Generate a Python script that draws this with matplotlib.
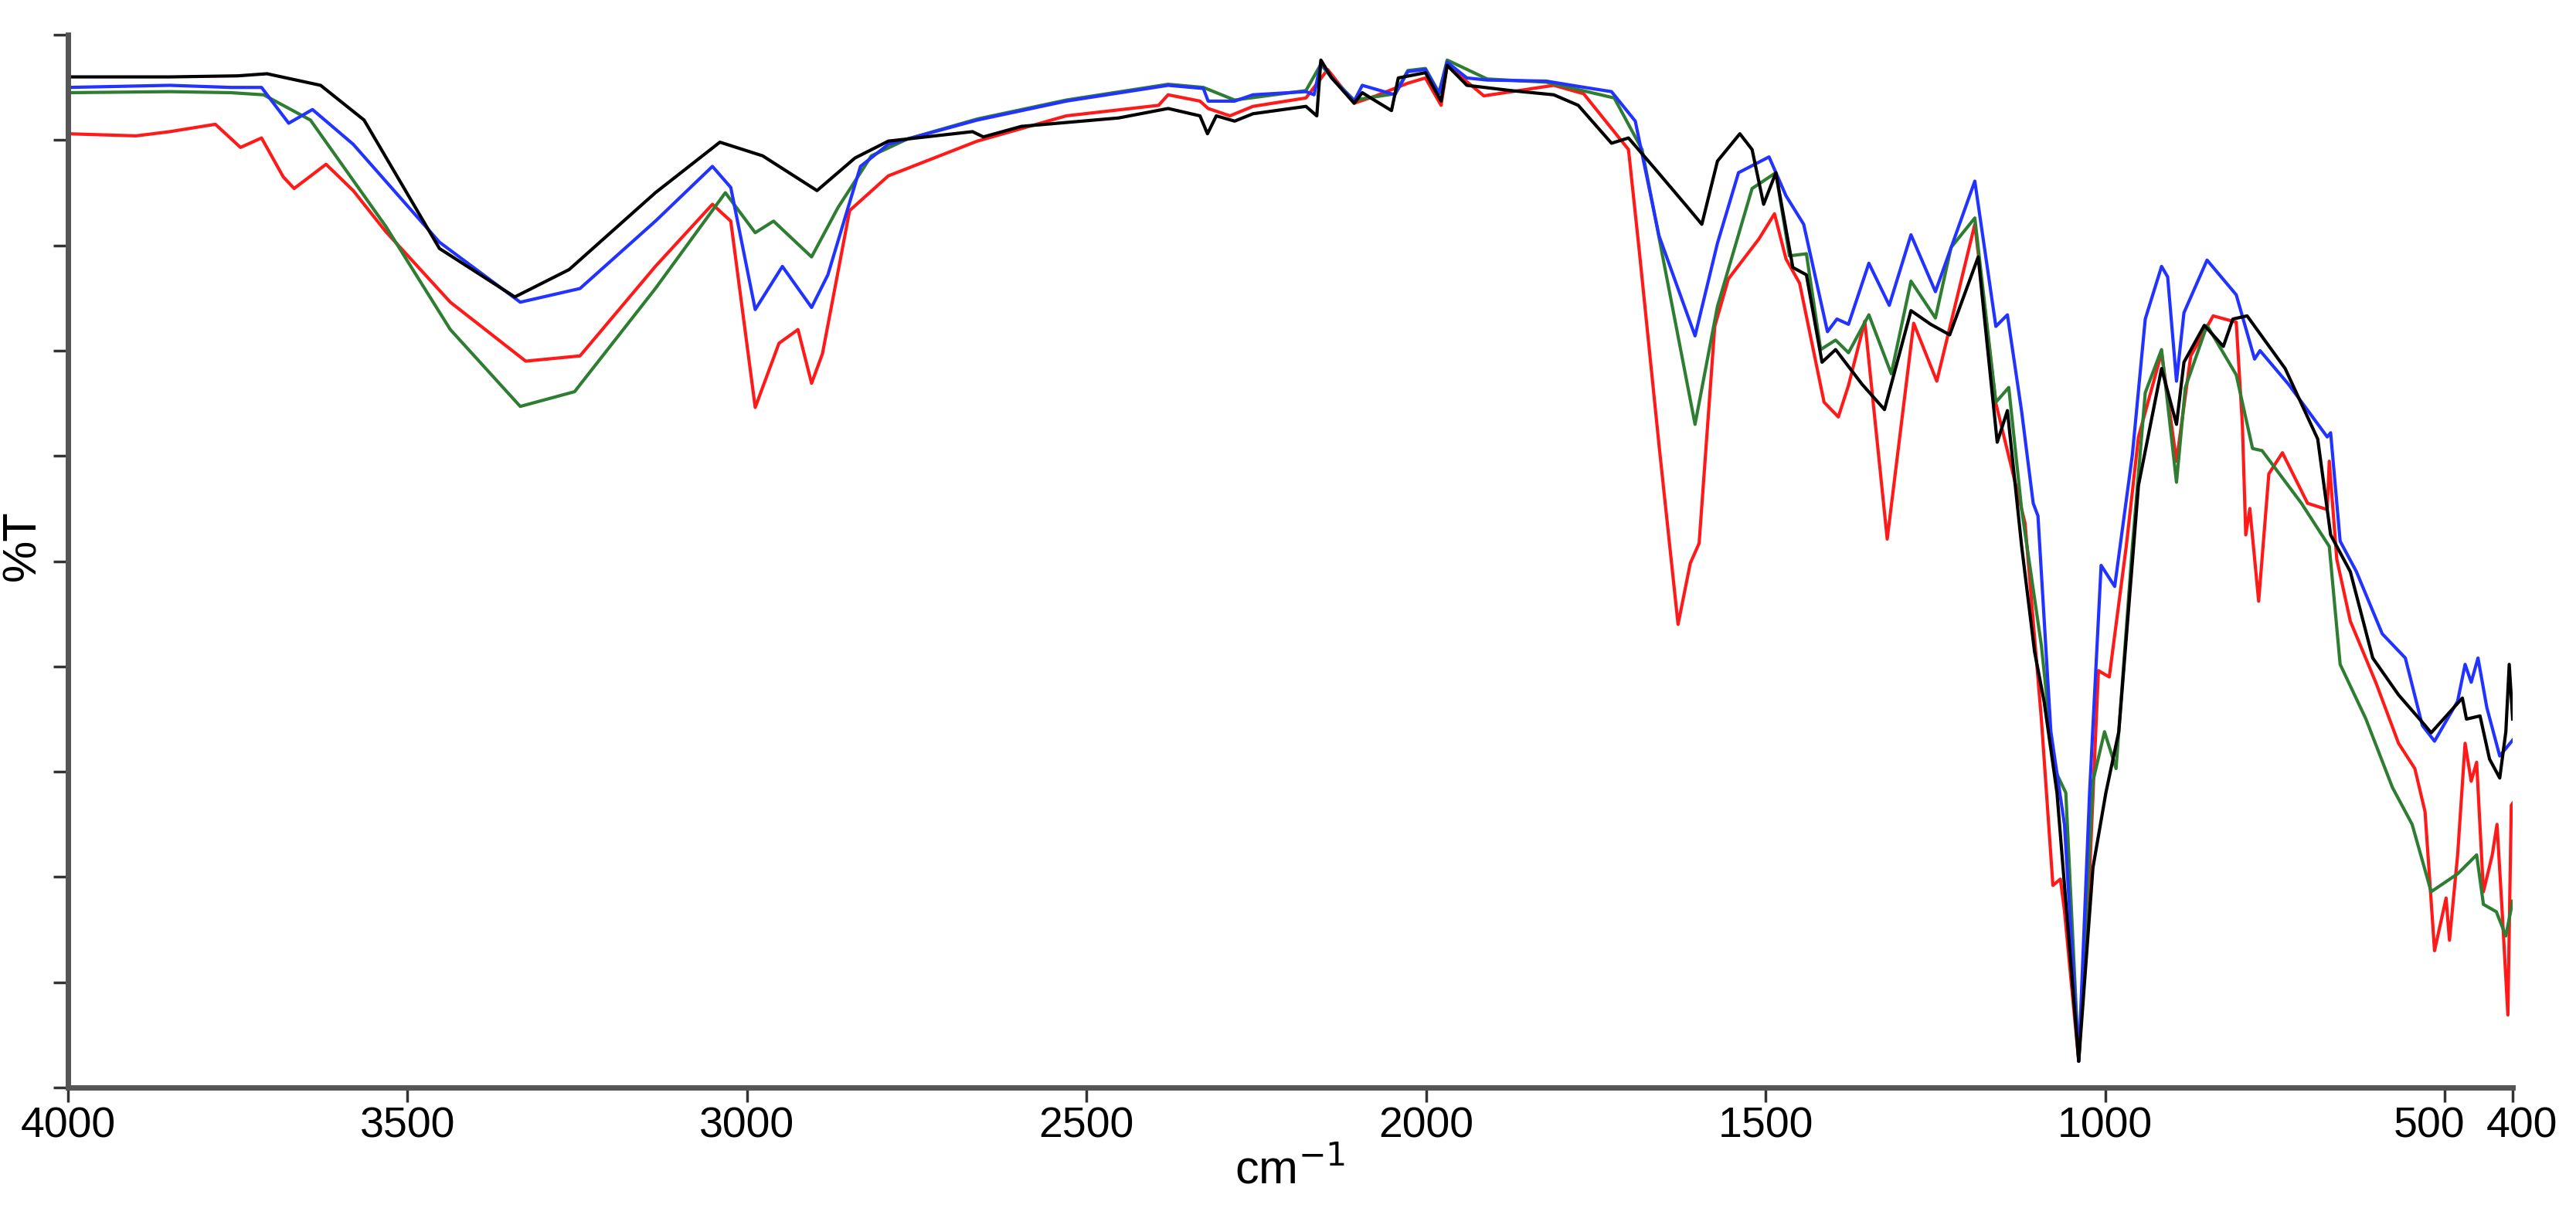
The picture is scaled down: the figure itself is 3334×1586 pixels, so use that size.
import matplotlib
matplotlib.use("Agg")
import matplotlib.pyplot as plt
import matplotlib.transforms as mtransforms

plt.rcParams['font.family'] = ['Liberation Sans', 'DejaVu Sans']

# wavenumber (cm-1) and %T readings for each spectrum
black_wn = [4000, 3850, 3750, 3707, 3628, 3564, 3453, 3342, 3262, 3135, 3040, 2977, 2897, 2841,
            2792, 2668, 2652, 2596, 2453, 2380, 2333, 2322, 2309, 2282, 2255, 2177, 2161, 2155,
            2139, 2106, 2094, 2074, 2051, 2041, 2001, 1978, 1969, 1940, 1875, 1812, 1776, 1727,
            1702, 1662, 1616, 1594, 1571, 1538, 1520, 1503, 1485, 1460, 1440, 1417, 1397, 1358,
            1325, 1286, 1257, 1229, 1187, 1159, 1144, 1123, 1104, 1090, 1071, 1039, 1018, 999, 980,
            951, 917, 895, 884, 854, 826, 812, 791, 735, 687, 668, 639, 606, 568, 529, 520, 474,
            468, 448, 434, 419, 410, 405, 400]
black_t = [9.60, 9.60, 9.61, 9.63, 9.52, 9.19, 7.97, 7.51, 7.77, 8.50, 8.98, 8.85, 8.52, 8.83,
           8.99, 9.08, 9.03, 9.13, 9.21, 9.30, 9.23, 9.06, 9.23, 9.18, 9.25, 9.32, 9.23, 9.76,
           9.59, 9.35, 9.45, 9.37, 9.28, 9.59, 9.64, 9.37, 9.71, 9.52, 9.47, 9.43, 9.33, 8.97,
           9.02, 8.72, 8.37, 8.20, 8.80, 9.06, 8.91, 8.39, 8.69, 7.79, 7.72, 6.89, 7.01, 6.68,
           6.44, 7.38, 7.25, 7.15, 7.89, 6.13, 6.43, 5.14, 4.14, 3.67, 2.80, 0.25, 2.09, 2.80, 3.38,
           5.72, 6.83, 6.30, 6.89, 7.24, 7.04, 7.30, 7.33, 6.83, 6.16, 5.25, 4.90, 4.08, 3.73, 3.44,
           3.37, 3.70, 3.50, 3.53, 3.12, 2.94, 3.38, 4.02, 3.50]

blue_wn = [4000, 3850, 3760, 3715, 3675, 3640, 3580, 3453, 3334, 3246, 3135, 3051, 3024, 2988,
           2948, 2905, 2881, 2833, 2792, 2661, 2530, 2380, 2328, 2321, 2282, 2255, 2177, 2165,
           2155, 2139, 2106, 2094, 2046, 2027, 2001, 1981, 1969, 1940, 1910, 1823, 1776, 1727,
           1692, 1657, 1604, 1571, 1540, 1495, 1470, 1444, 1409, 1395, 1378, 1348, 1318, 1286,
           1250, 1192, 1161, 1144, 1123, 1106, 1099, 1080, 1060, 1039, 1023, 1006, 986, 960, 941,
           917, 908, 895, 884, 850, 807, 780, 772, 730, 673, 668, 654, 630, 592, 558, 533, 515,
           481, 470, 461, 451, 438, 419, 400]
blue_t = [9.50, 9.52, 9.50, 9.50, 9.16, 9.29, 8.96, 8.03, 7.46, 7.59, 8.23, 8.75, 8.55, 7.39,
          7.80, 7.41, 7.72, 8.75, 8.96, 9.19, 9.37, 9.52, 9.49, 9.37, 9.37, 9.43, 9.46, 9.43,
          9.74, 9.59, 9.37, 9.52, 9.43, 9.65, 9.67, 9.44, 9.74, 9.59, 9.57, 9.56, 9.51, 9.46,
          9.18, 8.09, 7.14, 8.02, 8.69, 8.84, 8.47, 8.20, 7.18, 7.30, 7.25, 7.83, 7.43, 8.10,
          7.56, 8.61, 7.23, 7.34, 6.42, 5.55, 5.43, 3.38, 2.50, 0.25, 2.80, 4.96, 4.76, 6.01, 7.30,
          7.80, 7.70, 6.71, 7.36, 7.86, 7.53, 6.92, 7.00, 6.68, 6.18, 6.22, 5.19, 4.90, 4.31, 4.08,
          3.44, 3.29, 3.67, 4.02, 3.85, 4.08, 3.61, 3.15, 3.30]

green_wn = [4000, 3850, 3760, 3712, 3643, 3532, 3437, 3334, 3254, 3135, 3032, 2988, 2961, 2905,
            2866, 2817, 2764, 2661, 2530, 2380, 2328, 2282, 2177, 2155, 2139, 2106, 2046, 2027,
            2001, 1981, 1969, 1910, 1823, 1723, 1682, 1604, 1571, 1520, 1485, 1465, 1440, 1419,
            1397, 1378, 1348, 1315, 1286, 1250, 1227, 1192, 1161, 1142, 1123, 1094, 1075, 1058,
            1039, 1018, 1001, 984, 960, 941, 917, 895, 882, 850, 807, 783, 769, 711, 670, 654, 616,
            577, 548, 520, 481, 453, 443, 424, 410, 400]
green_t = [9.45, 9.46, 9.45, 9.43, 9.19, 8.18, 7.20, 6.47, 6.61, 7.59, 8.50, 8.12, 8.23, 7.89,
           8.36, 8.85, 9.01, 9.20, 9.38, 9.53, 9.50, 9.38, 9.47, 9.72, 9.59, 9.38, 9.44, 9.66,
           9.68, 9.45, 9.76, 9.58, 9.55, 9.40, 8.91, 6.30, 7.42, 8.54, 8.69, 7.90, 7.92, 7.01,
           7.10, 6.98, 7.34, 6.78, 7.66, 7.31, 7.98, 8.26, 6.51, 6.65, 5.49, 4.20, 3.03, 2.80,
           0.25, 2.91, 3.38, 3.03, 5.14, 6.60, 7.01, 5.75, 6.65, 7.24, 6.77, 6.07, 6.05, 5.55,
           5.14, 4.02, 3.50, 2.85, 2.50, 1.86, 2.03, 2.21, 1.74, 1.67, 1.44, 1.77]

red_wn = [4000, 3900, 3850, 3783, 3746, 3715, 3683, 3667, 3620, 3580, 3532, 3437, 3326, 3246,
          3135, 3051, 3024, 2988, 2953, 2925, 2905, 2889, 2849, 2792, 2661, 2530, 2394, 2380,
          2333, 2321, 2289, 2255, 2177, 2145, 2106, 2074, 2027, 2001, 1978, 1969, 1915, 1812,
          1768, 1702, 1686, 1657, 1629, 1611, 1598, 1575, 1555, 1510, 1487, 1470, 1450, 1414,
          1393, 1378, 1354, 1321, 1282, 1248, 1192, 1161, 1118, 1094, 1077, 1066, 1060, 1039,
          1023, 1010, 994, 969, 951, 917, 895, 874, 841, 807, 798, 793, 787, 774, 759, 739, 702,
          673, 670, 659, 639, 601, 568, 544, 529, 515, 498, 493, 481, 470, 461, 453, 443, 430,
          423, 416, 407, 402, 400]
red_t = [9.06, 9.04, 9.08, 9.15, 8.93, 9.02, 8.65, 8.54, 8.77, 8.52, 8.13, 7.46, 6.90, 6.95,
         7.80, 8.39, 8.23, 6.46, 7.07, 7.20, 6.69, 6.97, 8.33, 8.66, 8.99, 9.23, 9.33, 9.43,
         9.37, 9.30, 9.23, 9.32, 9.40, 9.67, 9.35, 9.42, 9.54, 9.59, 9.33, 9.71, 9.42, 9.52,
         9.44, 8.91, 7.94, 6.10, 4.40, 4.98, 5.17, 7.23, 7.68, 8.06, 8.30, 7.87, 7.64, 6.51,
         6.37, 6.67, 7.28, 5.21, 7.26, 6.71, 8.20, 6.50, 5.36, 3.50, 1.92, 1.98, 1.68, 0.25,
         2.03, 3.96, 3.90, 5.14, 6.18, 6.98, 5.95, 6.95, 7.33, 7.27, 6.30, 5.25, 5.50, 4.62,
         5.83, 6.03, 5.55, 5.49, 5.95, 5.02, 4.43, 3.84, 3.27, 3.03, 2.62, 1.30, 1.80, 1.40,
         2.21, 3.27, 2.91, 3.09, 1.86, 2.21, 2.50, 1.74, 0.69, 2.68, 2.70]

xticks = [4000, 3500, 3000, 2500, 2000, 1500, 1000, 500, 400]

fig = plt.figure(figsize=(33.34, 15.86), dpi=100)
ax = fig.add_axes([0.0264, 0.1122, 0.949, 0.8594])

ax.plot(red_wn, red_t, color="#ff1a1a", lw=3)
ax.plot(green_wn, green_t, color="#2e7d32", lw=3)
ax.plot(blue_wn, blue_t, color="#2233ff", lw=3)
ax.plot(black_wn, black_t, color="black", lw=3)

ax.set_xlim(4000, 400)
ax.set_ylim(0, 10)
ax.set_xticks(xticks)
ax.set_xticklabels([str(t) for t in xticks], fontsize=40)
ax.set_yticks(range(0, 11))
ax.set_yticklabels([])
ax.tick_params(axis="both", direction="out", length=14, width=2.5, color="#333333")

# nudge the crowded 500 / 400 labels apart like the reference
labels = ax.get_xticklabels()
labels[-2].set_transform(labels[-2].get_transform() +
                         mtransforms.ScaledTranslation(-0.2, 0, fig.dpi_scale_trans))
labels[-1].set_transform(labels[-1].get_transform() +
                         mtransforms.ScaledTranslation(0.12, 0, fig.dpi_scale_trans))

for side in ["top", "right"]:
    ax.spines[side].set_visible(False)
for side in ["left", "bottom"]:
    ax.spines[side].set_linewidth(5)
    ax.spines[side].set_color("#555555")

ax.set_xlabel("cm$^{-1}$", fontsize=44, labelpad=2)
fig.text(0.009, 0.555, "%T", fontsize=44, rotation=90, ha="center", va="center")

fig.savefig("out.png", dpi=100)
